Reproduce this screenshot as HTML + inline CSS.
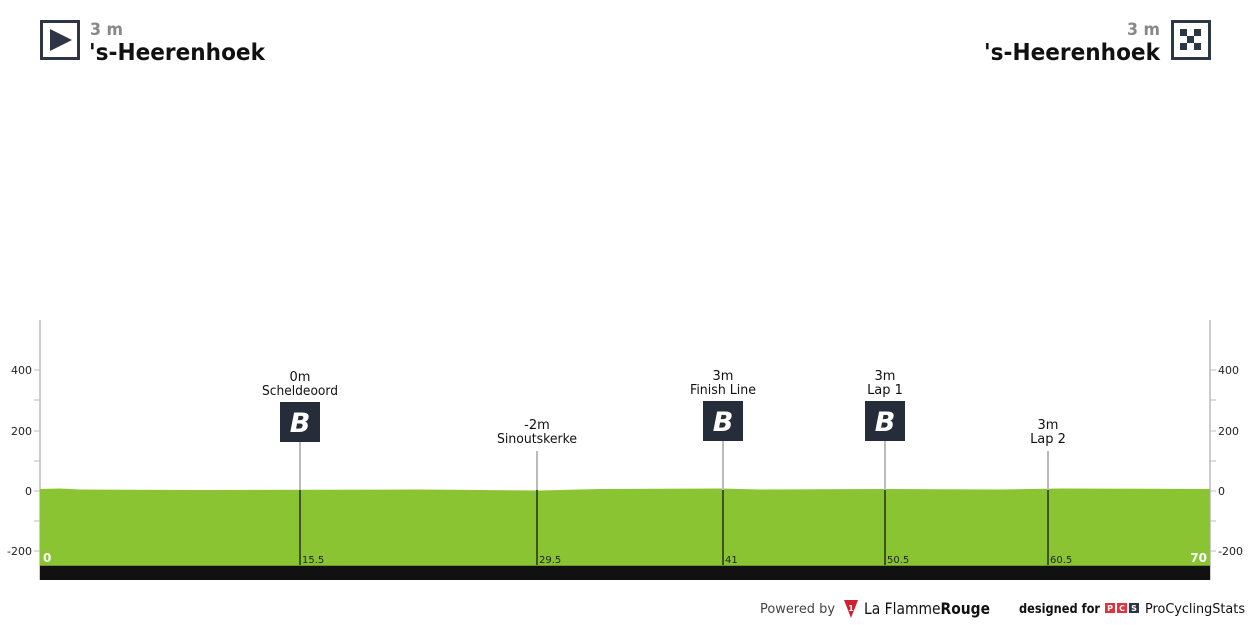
<!DOCTYPE html>
<html><head><meta charset="utf-8"><style>
html,body{margin:0;padding:0;background:#fff;}
svg{display:block;font-family:"DejaVu Sans","Liberation Sans",sans-serif;}
</style></head><body>
<svg width="1250" height="625" viewBox="0 0 1250 625" xmlns="http://www.w3.org/2000/svg">
<!-- start icon -->
<rect x="41.5" y="21.5" width="37" height="37" fill="#fff" stroke="#2d3645" stroke-width="3"/>
<polygon points="50,29 72,40 50,51" fill="#2d3645"/>
<text x="90" y="35" font-size="17" font-weight="bold" fill="#888" textLength="33" lengthAdjust="spacingAndGlyphs">3 m</text>
<text x="89" y="60" font-size="23" font-weight="bold" fill="#111" textLength="176" lengthAdjust="spacingAndGlyphs">'s-Heerenhoek</text>
<!-- finish icon -->
<rect x="1172.5" y="21.5" width="37" height="37" fill="#fff" stroke="#2d3645" stroke-width="3"/>
<g fill="#2d3645">
<rect x="1180" y="29" width="7" height="7"/><rect x="1194" y="29" width="7" height="7"/>
<rect x="1187" y="36" width="7" height="7"/>
<rect x="1180" y="43" width="7" height="7"/><rect x="1194" y="43" width="7" height="7"/>
</g>
<text x="1160" y="35" font-size="17" font-weight="bold" fill="#888" text-anchor="end" textLength="33" lengthAdjust="spacingAndGlyphs">3 m</text>
<text x="984" y="60" font-size="23" font-weight="bold" fill="#111" textLength="176" lengthAdjust="spacingAndGlyphs">'s-Heerenhoek</text>

<!-- axes -->
<line x1="40" y1="320" x2="40" y2="580" stroke="#ccc" stroke-width="2"/>
<line x1="1210" y1="320" x2="1210" y2="580" stroke="#ccc" stroke-width="2"/>
<g stroke="#bbb" stroke-width="1">
<line x1="34" y1="370" x2="40" y2="370"/><line x1="34" y1="400" x2="40" y2="400"/><line x1="34" y1="431" x2="40" y2="431"/><line x1="34" y1="461" x2="40" y2="461"/><line x1="34" y1="491" x2="40" y2="491"/><line x1="34" y1="521" x2="40" y2="521"/><line x1="34" y1="551" x2="40" y2="551"/>
<line x1="1210" y1="370" x2="1216" y2="370"/><line x1="1210" y1="400" x2="1216" y2="400"/><line x1="1210" y1="431" x2="1216" y2="431"/><line x1="1210" y1="461" x2="1216" y2="461"/><line x1="1210" y1="491" x2="1216" y2="491"/><line x1="1210" y1="521" x2="1216" y2="521"/><line x1="1210" y1="551" x2="1216" y2="551"/>
</g>
<g font-size="11" fill="#222">
<text x="32" y="374" text-anchor="end">400</text><text x="32" y="435" text-anchor="end">200</text><text x="32" y="495" text-anchor="end">0</text><text x="32" y="555" text-anchor="end">-200</text>
<text x="1218" y="374">400</text><text x="1218" y="435">200</text><text x="1218" y="495">0</text><text x="1218" y="555">-200</text>
</g>

<!-- profile -->
<path d="M40,489 L60,488.5 L80,489.5 L200,490 L420,489.5 L540,490.5 L600,489 L720,488.5 L760,489.5 L880,489 L1000,489.5 L1060,488.5 L1210,489 L1210,566 L40,566 Z" fill="#8bc433"/>
<rect x="40" y="565" width="1170" height="15" fill="#111"/>
<line x1="40" y1="565.5" x2="1210" y2="565.5" stroke="#6a9a26" stroke-width="1"/>
<text x="43" y="562" font-size="12" font-weight="bold" fill="#fff">0</text>
<text x="1207" y="562" font-size="12" font-weight="bold" fill="#fff" text-anchor="end">70</text>

<!-- markers -->
<g stroke="#bbb" stroke-width="2">
<line x1="300" y1="441" x2="300" y2="490"/>
<line x1="537" y1="451" x2="537" y2="490"/>
<line x1="723" y1="440" x2="723" y2="490"/>
<line x1="885" y1="440" x2="885" y2="490"/>
<line x1="1048" y1="451" x2="1048" y2="490"/>
</g>
<g stroke="#3d5520" stroke-width="2">
<line x1="300" y1="490" x2="300" y2="565"/>
<line x1="537" y1="490" x2="537" y2="565"/>
<line x1="723" y1="490" x2="723" y2="565"/>
<line x1="885" y1="490" x2="885" y2="565"/>
<line x1="1048" y1="490" x2="1048" y2="565"/>
</g>
<g font-size="10" fill="#222">
<text x="302" y="563">15.5</text><text x="539" y="563">29.5</text><text x="725" y="563">41</text><text x="887" y="563">50.5</text><text x="1050" y="563">60.5</text>
</g>
<g font-size="13" fill="#111" text-anchor="middle">
<text x="300" y="381">0m</text><text x="300" y="395" textLength="76" lengthAdjust="spacingAndGlyphs">Scheldeoord</text>
<text x="537" y="429">-2m</text><text x="537" y="443" textLength="80" lengthAdjust="spacingAndGlyphs">Sinoutskerke</text>
<text x="723" y="380">3m</text><text x="723" y="394" textLength="66" lengthAdjust="spacingAndGlyphs">Finish Line</text>
<text x="885" y="380">3m</text><text x="885" y="394">Lap 1</text>
<text x="1048" y="429">3m</text><text x="1048" y="443">Lap 2</text>
</g>
<g>
<rect x="280" y="402" width="40" height="40" fill="#252d3a"/>
<rect x="703" y="401" width="40" height="40" fill="#252d3a"/>
<rect x="865" y="401" width="40" height="40" fill="#252d3a"/>
</g>
<g font-size="27" font-weight="bold" font-style="italic" fill="#fff" text-anchor="middle">
<text x="300" y="432">B</text><text x="723" y="431">B</text><text x="885" y="431">B</text>
</g>

<!-- footer -->
<text x="760" y="613" font-size="13" fill="#444" textLength="75" lengthAdjust="spacingAndGlyphs">Powered by</text>
<polygon points="844,600 858,600 851,618" fill="#d0202e"/>
<text x="851" y="611" font-size="8" font-weight="bold" fill="#fff" text-anchor="middle">1</text>
<text x="864" y="614" font-size="16" fill="#111" textLength="126" lengthAdjust="spacingAndGlyphs">La Flamme<tspan font-weight="bold">Rouge</tspan></text>
<text x="1019" y="613" font-size="13" font-weight="bold" fill="#111" textLength="81" lengthAdjust="spacingAndGlyphs">designed for</text>
<rect x="1105" y="603" width="10" height="10" fill="#e0313f"/>
<rect x="1117" y="603" width="10" height="10" fill="#e0313f"/>
<rect x="1129" y="603" width="10" height="10" fill="#2d3645"/>
<g font-size="8" font-weight="bold" fill="#fff" text-anchor="middle"><text x="1110" y="611">P</text><text x="1122" y="611">C</text><text x="1134" y="611">S</text></g>
<text x="1145" y="613" font-size="13" fill="#111" textLength="100" lengthAdjust="spacingAndGlyphs">ProCyclingStats</text>
</svg>
</body></html>
